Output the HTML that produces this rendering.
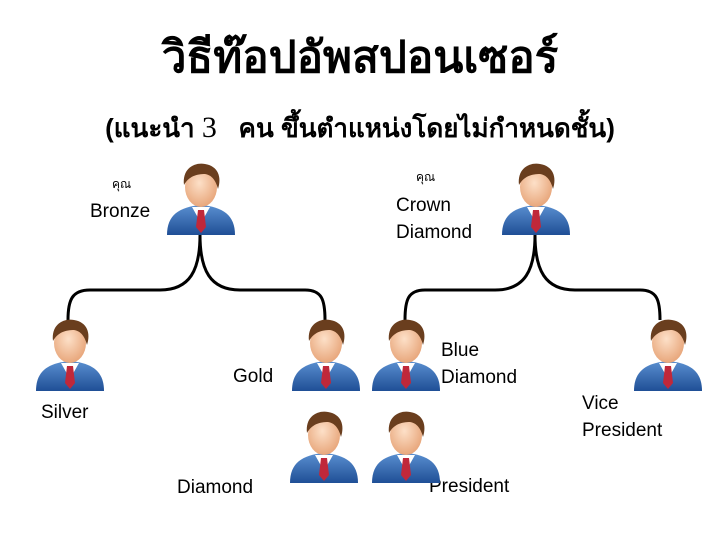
<!DOCTYPE html>
<html><head><meta charset="utf-8"><style>
body{margin:0;width:720px;height:540px;background:#fff;overflow:hidden;position:relative;font-family:"Liberation Sans",sans-serif}
.t{position:absolute;color:#000;white-space:nowrap}
.l{font-size:19px;line-height:27px}
</style></head><body>
<div class="t" style="left:0;width:720px;top:22px;text-align:center;font-size:44px;font-weight:bold">วิธีท๊อปอัพสปอนเซอร์</div>
<div class="t" style="left:0;width:720px;top:108px;text-align:center;font-size:26px;font-weight:bold">(แนะนำ <span style="font-family:'Liberation Serif',serif;font-size:30px;font-weight:normal">3</span> &nbsp; คน ขึ้นตำแหน่งโดยไม่กำหนดชั้น)</div>
<div class="t" style="left:112px;top:175px;font-size:12px">คุณ</div>
<div class="t l" style="left:90px;top:198px">Bronze</div>
<div class="t" style="left:416px;top:168px;font-size:12px">คุณ</div>
<div class="t l" style="left:396px;top:192px">Crown<br>Diamond</div>
<div class="t l" style="left:41px;top:399px">Silver</div>
<div class="t l" style="left:233px;top:363px">Gold</div>
<div class="t l" style="left:441px;top:337px">Blue<br>Diamond</div>
<div class="t l" style="left:582px;top:390px">Vice<br>President</div>
<div class="t l" style="left:177px;top:474px">Diamond</div>
<div class="t l" style="left:429px;top:473px">President</div>
<svg width="720" height="540" style="position:absolute;left:0;top:0">
<defs>
<linearGradient id="suit" x1="0" y1="0" x2="0" y2="1"><stop offset="0" stop-color="#5a8fd0"/><stop offset="1" stop-color="#1f4f96"/></linearGradient>
<radialGradient id="skin" cx="0.45" cy="0.4" r="0.6"><stop offset="0" stop-color="#fde0c8"/><stop offset="1" stop-color="#e8a77c"/></radialGradient>
<g id="p">
<path d="M2 72 C2 52 14 44 36 42 C58 44 70 52 70 72 Z" fill="url(#suit)"/>
<path d="M27 44 L36 60 L45 44 Z" fill="#fff"/>
<path d="M33 47 L39 47 L41 64 L36 70 L31 64 Z" fill="#c0283a"/>
<ellipse cx="36" cy="24" rx="16" ry="20" fill="url(#skin)"/>
<path d="M19 22 C17 5 30 -1 40 1 C53 3 57 14 53 26 C51 18 47 12 40 11 C32 11 24 13 19 22 Z" fill="#6a3e1e"/>
</g>
</defs>
<g fill="none" stroke="#000" stroke-width="3">
<path d="M200 235 C200 270 190 290 160 290 L90 290 C72 290 68 300 68 320"/>
<path d="M200 235 C200 270 210 290 240 290 L305 290 C322 290 325 300 325 320"/>
<path d="M535 235 C535 270 525 290 495 290 L425 290 C408 290 405 300 405 320"/>
<path d="M535 235 C535 270 545 290 575 290 L640 290 C657 290 660 300 660 320"/>
</g>
<use href="#p" x="165" y="163"/>
<use href="#p" x="500" y="163"/>
<use href="#p" x="34" y="319"/>
<use href="#p" x="290" y="319"/>
<use href="#p" x="370" y="319"/>
<use href="#p" x="632" y="319"/>
<use href="#p" x="288" y="411"/>
<use href="#p" x="370" y="411"/>
</svg>
</body></html>
